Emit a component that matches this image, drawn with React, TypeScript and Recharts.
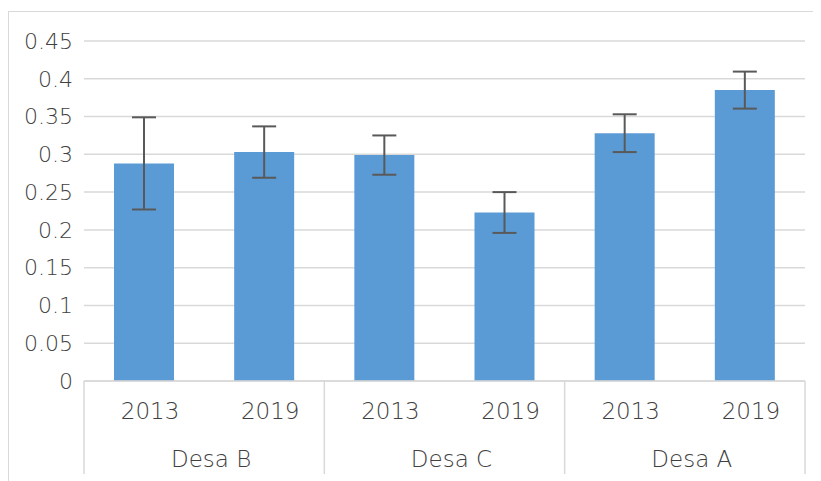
import React from "react";
import { ComposedChart, Bar, XAxis, YAxis, CartesianGrid, ErrorBar } from "recharts";

const villages = ["Desa B", "Desa B", "Desa C", "Desa C", "Desa A", "Desa A"];
const years = ["2013", "2019", "2013", "2019", "2013", "2019"];
const means = [0.288, 0.303, 0.299, 0.223, 0.328, 0.385];
const errors = [0.061, 0.034, 0.026, 0.027, 0.025, 0.0245];
const yTicks = [0, 0.05, 0.1, 0.15, 0.2, 0.25, 0.3, 0.35, 0.4, 0.45];

const data = years.map((y, i) => ({
  key: `${villages[i]}-${y}`,
  year: y,
  desa: villages[i],
  value: means[i],
  err: errors[i],
}));

const FONT = "'DejaVu Sans', sans-serif";
const TEXT = "#404040";
const GRID = "#d9d9d9";

const XTick = (props: any) => {
  const { x, y, index, payload } = props;
  const half = payload && payload.offset ? payload.offset : 60;
  const d = data[index];
  const first = index === 0 || data[index - 1].desa !== d.desa;
  const last = index === data.length - 1;
  return (
    <g>
      <text
        x={x + 6}
        y={y + 30}
        textAnchor="middle"
        dominantBaseline="central"
        fontFamily={FONT}
        fontWeight={300}
        fontSize={23}
        fill={TEXT}
      >
        {d.year}
      </text>
      {first && (
        <>
          <line x1={x - half} x2={x - half} y1={y} y2={y + 93} stroke={GRID} strokeWidth={1.5} />
          <text
            x={x + half + 7}
            y={y + 78}
            textAnchor="middle"
            dominantBaseline="central"
            fontFamily={FONT}
            fontWeight={300}
            fontSize={23}
            fill={TEXT}
          >
            {d.desa}
          </text>
        </>
      )}
      {last && (
        <line x1={x + half} x2={x + half} y1={y} y2={y + 93} stroke={GRID} strokeWidth={1.5} />
      )}
    </g>
  );
};

export default function App() {
  return (
    <div
      style={{
        marginTop: 3,
        width: 813,
        height: 470,
        borderTop: `1px solid ${GRID}`,
        borderLeft: `1px solid ${GRID}`,
        boxSizing: "border-box",
        overflow: "hidden",
      }}
    >
      <ComposedChart
        width={812}
        height={469}
        data={data}
        margin={{ top: 29, right: 16, left: 0, bottom: 0 }}
        barCategoryGap={0}
      >
        <CartesianGrid vertical={false} stroke={GRID} strokeWidth={1.5} />
        <XAxis
          dataKey="key"
          interval={0}
          height={100}
          tickLine={false}
          tickSize={0}
          tickMargin={0}
          axisLine={{ stroke: GRID, strokeWidth: 1.5 }}
          tick={<XTick />}
        />
        <YAxis
          width={75}
          domain={[0, 0.45]}
          ticks={yTicks}
          interval={0}
          axisLine={false}
          tickLine={false}
          tickSize={0}
          tickMargin={11}
          tick={{ fontFamily: FONT, fontWeight: 300, fontSize: 22, fill: TEXT }}
        />
        <Bar dataKey="value" fill="#5b9bd5" barSize={60} isAnimationActive={false}>
          <ErrorBar dataKey="err" direction="y" width={12} stroke="#595959" strokeWidth={2} />
        </Bar>
      </ComposedChart>
    </div>
  );
}
